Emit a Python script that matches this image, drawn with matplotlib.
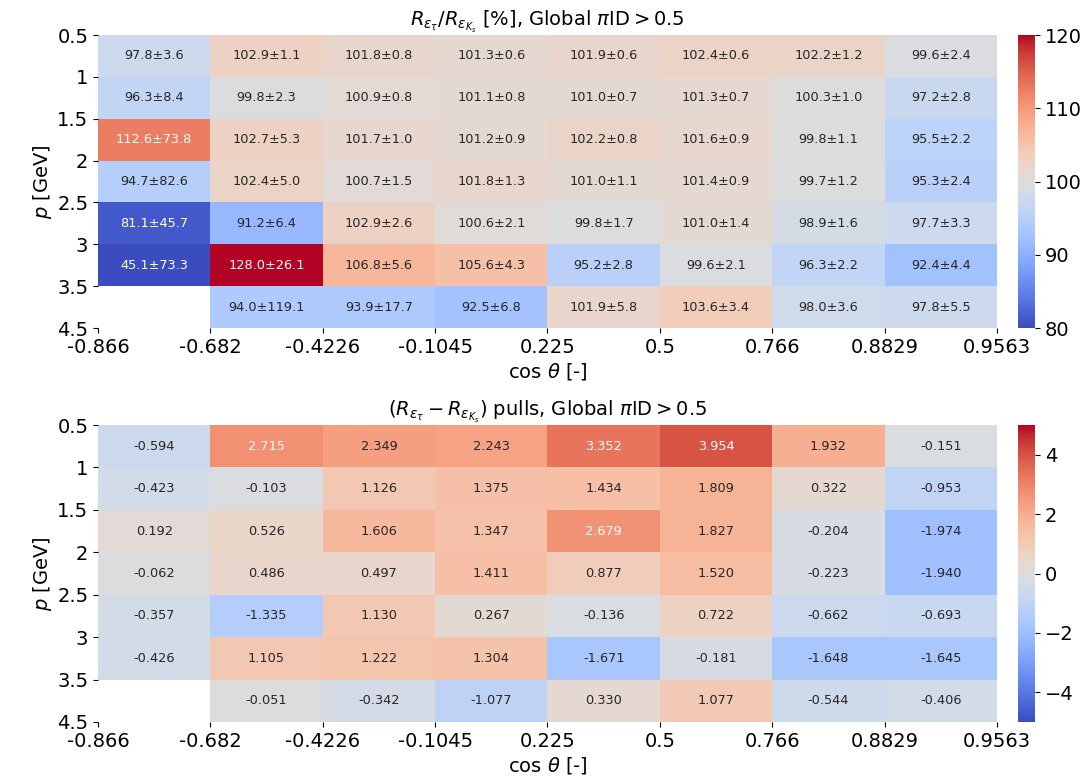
import numpy as np
import matplotlib
matplotlib.use("Agg")
import matplotlib.pyplot as plt
from matplotlib.colors import to_rgba

cos_edges = ["-0.866", "-0.682", "-0.4226", "-0.1045", "0.225", "0.5", "0.766", "0.8829", "0.9563"]
p_edges = ["0.5", "1", "1.5", "2", "2.5", "3", "3.5", "4.5"]

ratio = [
    [97.8, 102.9, 101.8, 101.3, 101.9, 102.4, 102.2, 99.6],
    [96.3, 99.8, 100.9, 101.1, 101.0, 101.3, 100.3, 97.2],
    [112.6, 102.7, 101.7, 101.2, 102.2, 101.6, 99.8, 95.5],
    [94.7, 102.4, 100.7, 101.8, 101.0, 101.4, 99.7, 95.3],
    [81.1, 91.2, 102.9, 100.6, 99.8, 101.0, 98.9, 97.7],
    [45.1, 128.0, 106.8, 105.6, 95.2, 99.6, 96.3, 92.4],
    [np.nan, 94.0, 93.9, 92.5, 101.9, 103.6, 98.0, 97.8],
]
ratio_err = [
    [3.6, 1.1, 0.8, 0.6, 0.6, 0.6, 1.2, 2.4],
    [8.4, 2.3, 0.8, 0.8, 0.7, 0.7, 1.0, 2.8],
    [73.8, 5.3, 1.0, 0.9, 0.8, 0.9, 1.1, 2.2],
    [82.6, 5.0, 1.5, 1.3, 1.1, 0.9, 1.2, 2.4],
    [45.7, 6.4, 2.6, 2.1, 1.7, 1.4, 1.6, 3.3],
    [73.3, 26.1, 5.6, 4.3, 2.8, 2.1, 2.2, 4.4],
    [np.nan, 119.1, 17.7, 6.8, 5.8, 3.4, 3.6, 5.5],
]
pulls = [
    [-0.594, 2.715, 2.349, 2.243, 3.352, 3.954, 1.932, -0.151],
    [-0.423, -0.103, 1.126, 1.375, 1.434, 1.809, 0.322, -0.953],
    [0.192, 0.526, 1.606, 1.347, 2.679, 1.827, -0.204, -1.974],
    [-0.062, 0.486, 0.497, 1.411, 0.877, 1.520, -0.223, -1.940],
    [-0.357, -1.335, 1.130, 0.267, -0.136, 0.722, -0.662, -0.693],
    [-0.426, 1.105, 1.222, 1.304, -1.671, -0.181, -1.648, -1.645],
    [np.nan, -0.051, -0.342, -1.077, 0.330, 1.077, -0.544, -0.406],
]


def lum(c):
    rgb = np.array(to_rgba(c)[:3])
    rgb = np.where(rgb <= .03928, rgb / 12.92, ((rgb + .055) / 1.055) ** 2.4)
    return rgb.dot([.2126, .7152, .0722])


def heat(ax, cax, vals, labels, vmin, vmax, cticks, title):
    vals = np.ma.masked_invalid(np.array(vals, dtype=float))
    cmap = plt.get_cmap("coolwarm")
    mesh = ax.pcolormesh(vals, cmap=cmap, vmin=vmin, vmax=vmax)
    norm = mesh.norm
    for i in range(vals.shape[0]):
        for j in range(vals.shape[1]):
            if vals.mask[i, j]:
                continue
            c = cmap(norm(vals[i, j]))
            tc = "0.15" if lum(c) > .408 else "w"
            ax.text(j + 0.5, i + 0.5, labels[i][j], ha="center", va="center",
                    fontsize=9.3, color=tc)
    ax.set_xlim(0, vals.shape[1])
    ax.set_ylim(vals.shape[0], 0)
    ax.set_xticks(range(len(cos_edges)))
    ax.set_xticklabels(cos_edges, fontsize=14)
    ax.set_yticks(range(len(p_edges)))
    ax.set_yticklabels(p_edges, fontsize=14)
    for s in ax.spines.values():
        s.set_visible(False)
    ax.set_xlabel(r"cos $\theta$ [-]", fontsize=14, labelpad=3)
    ax.set_ylabel(r"$p$ [GeV]", fontsize=14, labelpad=2)
    ax.set_title(title, fontsize=14, pad=4)
    cb = plt.colorbar(mesh, cax=cax, ticks=cticks)
    cb.outline.set_visible(False)
    cb.ax.tick_params(labelsize=14)


fig = plt.figure(figsize=(10.84, 7.78), dpi=100)
ax1 = fig.add_axes([0.0904, 0.5784, 0.8293, 0.3766])
cax1 = fig.add_axes([0.9391, 0.5784, 0.0157, 0.3766])
ax2 = fig.add_axes([0.0904, 0.0720, 0.8293, 0.3817])
cax2 = fig.add_axes([0.9391, 0.0720, 0.0157, 0.3817])

ratio_txt = [[("" if np.isnan(v) else f"{v:.1f}\u00b1{e:.1f}") for v, e in zip(rv, re)]
             for rv, re in zip(ratio, ratio_err)]
pull_txt = [[("" if np.isnan(v) else f"{v:.3f}") for v in row] for row in pulls]

heat(ax1, cax1, ratio, ratio_txt, 80, 120, [80, 90, 100, 110, 120],
     r"$R_{\varepsilon_{\tau}}/R_{\varepsilon_{K_s}}$ [%], Global $\pi$ID$>0.5$")
heat(ax2, cax2, pulls, pull_txt, -5, 5, [-4, -2, 0, 2, 4],
     r"$(R_{\varepsilon_{\tau}} - R_{\varepsilon_{K_s}})$ pulls, Global $\pi$ID$>0.5$")

plt.savefig("out.png")
